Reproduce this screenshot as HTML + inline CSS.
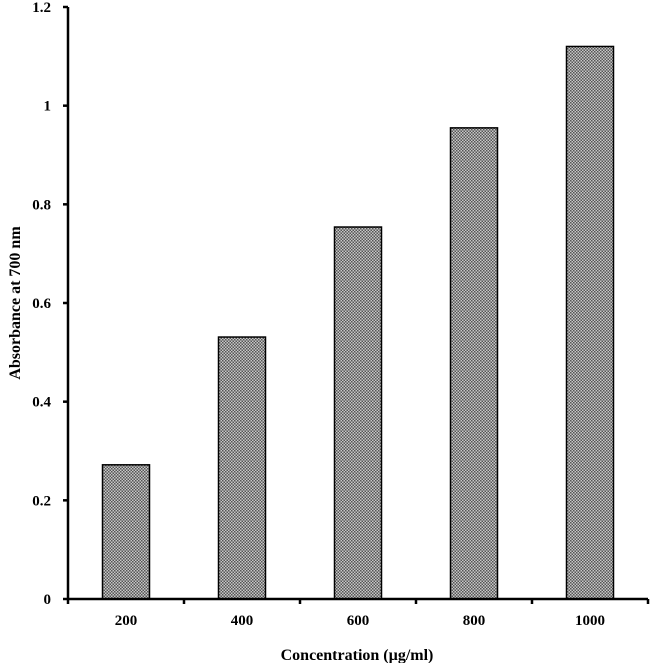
<!DOCTYPE html>
<html><head><meta charset="utf-8"><style>
html,body{margin:0;padding:0;background:#fff;}
svg{display:block;font-family:"Liberation Serif",serif;font-weight:bold;}
</style></head><body>
<svg id="chart" width="650" height="663" viewBox="0 0 650 663" xmlns="http://www.w3.org/2000/svg">
<defs>
<pattern id="chk" width="3" height="3" patternUnits="userSpaceOnUse">
<rect width="3" height="3" fill="#c8c8c8"/>
<rect width="1.5" height="1.5" fill="#555"/>
<rect x="1.5" y="1.5" width="1.5" height="1.5" fill="#555"/>
</pattern>
</defs>
<g id="bars"></g>
<g id="axes"></g>
<text transform="translate(20,303) rotate(-90)" text-anchor="middle" font-size="16">Absorbance at 700 nm</text>
<text x="357" y="660" text-anchor="middle" font-size="16">Concentration (µg/ml)</text>
</svg>
<script>
const categories = ["200","400","600","800","1000"];
const values = [0.272, 0.531, 0.754, 0.955, 1.12];
const yTicks = [0, 0.2, 0.4, 0.6, 0.8, 1, 1.2];
const yTickLabels = ["0","0.2","0.4","0.6","0.8","1","1.2"];

const X0 = 68, X1 = 648, Y0 = 599, Y1 = 7, YMAX = 1.2;
const NS = "http://www.w3.org/2000/svg";
function y(v){ return Y0 - (v / YMAX) * (Y0 - Y1); }
const band = (X1 - X0) / categories.length;
function xc(i){ return X0 + band * (i + 0.5); }
const barW = 47;

const bars = document.getElementById('bars');
const axes = document.getElementById('axes');
function mk(tag, attrs, parent){ const e = document.createElementNS(NS, tag); for (const k in attrs) e.setAttribute(k, attrs[k]); parent.appendChild(e); return e; }

values.forEach((v, i) => {
  const r = mk('rect', {x: xc(i) - barW/2, y: y(v), width: barW, height: Y0 - y(v), fill: 'url(#chk)', stroke: '#000', 'stroke-width': 1.5}, bars);
  
  
  const t = mk('text', {x: xc(i), y: 625, 'text-anchor': 'middle', 'font-size': 15}, axes);
  t.textContent = categories[i];
  
  
});
for (let i = 0; i <= categories.length; i++) {
  const tk = mk('line', {x1: X0 + band*i, x2: X0 + band*i, y1: Y0, y2: Y0 + 5, stroke: '#000', 'stroke-width': 2.5}, axes);
  
  
}
yTicks.forEach((v, i) => {
  const tk = mk('line', {x1: X0 - 5, x2: X0, y1: y(v), y2: y(v), stroke: '#000', 'stroke-width': 2.5}, axes);
  
  
  const t = mk('text', {x: 51, y: y(v) + 5, 'text-anchor': 'end', 'font-size': 15}, axes);
  t.textContent = yTickLabels[i];
  
  
});
const ya = mk('line', {x1: X0, x2: X0, y1: Y1, y2: Y0 + 1, stroke: '#000', 'stroke-width': 2.5}, axes);


const xa = mk('line', {x1: X0 - 1, x2: X1, y1: Y0, y2: Y0, stroke: '#000', 'stroke-width': 2.5}, axes);


</script>
</body></html>
